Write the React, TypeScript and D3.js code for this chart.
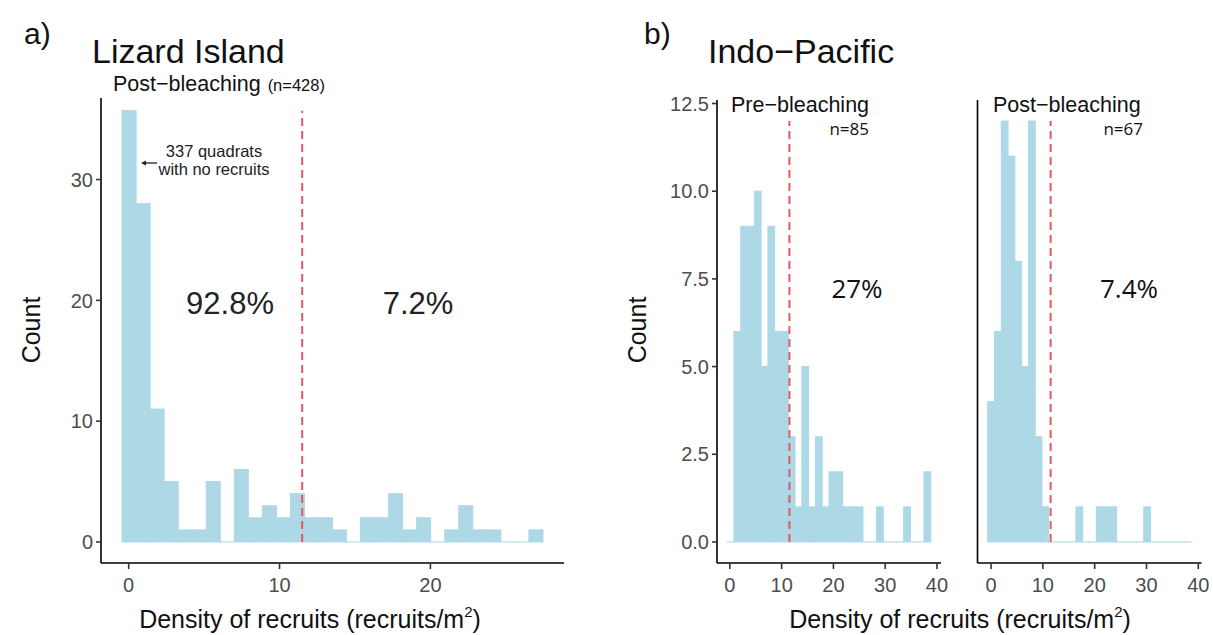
import React from "react";
import * as d3 from "d3";

// histogram counts, read bin by bin off the figure (30 bins per panel)
const lizardCounts = [35.7, 28, 11, 5, 1, 1, 5, 0, 6, 2, 3, 2, 4, 2, 2, 1, 0, 2, 2, 4, 1, 2, 0, 1, 3, 1, 1, 0, 0, 1];
const lizardBinStart = -0.44;
const lizardBinWidth = 0.93;

const preCounts = [0, 6, 9, 9, 10, 5, 9, 6, 6, 3, 1, 5, 1, 3, 1, 2, 2, 1, 1, 1, 0, 0, 1, 0, 0, 0, 1, 0, 0, 2];
const preBinStart = -0.52;
const preBinWidth = 1.311;

const postCounts = [4, 6, 12, 11, 8, 5, 12, 3, 1, 0, 0, 0, 0, 1, 0, 0, 1, 1, 1, 0, 0, 0, 0, 1, 0, 0, 0, 0, 0, 0];
const postBinStart = -0.65;
const postBinWidth = 1.31;

const threshold = 11.5;

const lizardXTicks = [0, 10, 20];
const lizardYTicks = [0, 10, 20, 30];
const indoXTicks = [0, 10, 20, 30, 40];
const indoYTicks = [0, 2.5, 5, 7.5, 10, 12.5];

const barColor = "#ADD8E6";
const lineColor = "#E8575F";
const tickColor = "#4D4D4D";
const font = "'Liberation Sans', Arial, Helvetica, sans-serif";
const font2 = "'Open Sans', 'Liberation Sans', sans-serif";

type HistProps = {
  counts: number[];
  binStart: number;
  binWidth: number;
  x: d3.ScaleLinear<number, number>;
  y: d3.ScaleLinear<number, number>;
  xTicks: number[];
  yTicks?: number[];
  yFormat?: (v: number) => string;
  lineTop: number;
};

const Histogram = ({ counts, binStart, binWidth, x, y, xTicks, yTicks, yFormat, lineTop }: HistProps) => {
  const [x0, x1] = x.range();
  const [yb, yt] = y.range();
  const base = y(0);
  return (
    <g>
      {counts.map((c, i) => {
        const left = x(binStart + i * binWidth);
        const right = x(binStart + (i + 1) * binWidth);
        const top = y(c);
        return (
          <rect
            key={i}
            x={left}
            y={top}
            width={right - left}
            height={Math.max(base - top, 0.01)}
            fill={barColor}
            stroke={barColor}
            strokeWidth={1}
          />
        );
      })}
      <line
        x1={x(threshold)}
        x2={x(threshold)}
        y1={y(0)}
        y2={y(lineTop)}
        stroke={lineColor}
        strokeWidth={2}
        strokeDasharray="8,5"
      />
      {/* axes */}
      <line x1={x0} x2={x1} y1={yb} y2={yb} stroke="#000" strokeWidth={1.6} />
      <line x1={x0} x2={x0} y1={yb} y2={yt} stroke="#000" strokeWidth={1.6} />
      {xTicks.map((t) => (
        <g key={t}>
          <line x1={x(t)} x2={x(t)} y1={yb} y2={yb + 6} stroke="#333" strokeWidth={1.6} />
          <text x={x(t)} y={592} textAnchor="middle" fontSize={20} fill={tickColor} fontFamily={font}>
            {t}
          </text>
        </g>
      ))}
      {yTicks &&
        yTicks.map((t) => (
          <g key={t}>
            <line x1={x0 - 5} x2={x0} y1={y(t)} y2={y(t)} stroke="#333" strokeWidth={1.6} />
            <text x={x0 - 8} y={y(t)} dy="0.36em" textAnchor="end" fontSize={20} fill={tickColor} fontFamily={font}>
              {yFormat ? yFormat(t) : t}
            </text>
          </g>
        ))}
    </g>
  );
};

const expandX = (start: number, width: number, n: number) => {
  const lo = start;
  const hi = start + width * n;
  const pad = (hi - lo) * 0.05;
  return [lo - pad, hi + pad];
};

const AxisTitle = ({ cx }: { cx: number }) => (
  <text x={cx} y={628} textAnchor="middle" fontSize={25} fill="#111" fontFamily={font}>
    Density of recruits (recruits/m
    <tspan fontSize={15} dy={-11}>2</tspan>
    <tspan dy={11}>)</tspan>
  </text>
);

const CountTitle = ({ cx }: { cx: number }) => (
  <text
    transform={`translate(${cx},330) rotate(-90)`}
    textAnchor="middle"
    fontSize={25}
    fill="#111"
    fontFamily={font}
  >
    Count
  </text>
);

export default function App() {
  const xA = d3.scaleLinear().domain(expandX(lizardBinStart, lizardBinWidth, lizardCounts.length)).range([101, 564]);
  const yA = d3.scaleLinear().domain([-1.74, 36.75]).range([563, 98]);

  const yB = d3.scaleLinear().domain([-0.6, 12.6]).range([563, 100]);
  const xPre = d3.scaleLinear().domain(expandX(preBinStart, preBinWidth, preCounts.length)).range([717, 941]);
  const xPost = d3.scaleLinear().domain(expandX(postBinStart, postBinWidth, postCounts.length)).range([977.5, 1201.5]);

  const lizardPeak = d3.max(lizardCounts) as number;
  const indoPeak = d3.max([...preCounts, ...postCounts]) as number;

  return (
    <svg width={1213} height={635} style={{ position: "absolute", left: 0, top: 0, background: "#fff" }}>
      <rect width={1213} height={635} fill="#fff" />

      {/* panel a */}
      <text x={24} y={44} fontSize={30} fontFamily={font} fill="#111">a)</text>
      <text x={92} y={63} fontSize={34} fontFamily={font} fill="#111">Lizard Island</text>
      <text x={113} y={91} fontSize={21.5} fontFamily={font} fill="#111">
        Post−bleaching<tspan fontSize={16.5} dx={7}>(n=428)</tspan>
      </text>
      <Histogram
        counts={lizardCounts}
        binStart={lizardBinStart}
        binWidth={lizardBinWidth}
        x={xA}
        y={yA}
        xTicks={lizardXTicks}
        yTicks={lizardYTicks}
        lineTop={lizardPeak}
      />
      <text x={214} y={157} textAnchor="middle" fontSize={16.5} fontFamily={font} fill="#222">337 quadrats</text>
      <text x={214} y={175} textAnchor="middle" fontSize={16.5} fontFamily={font} fill="#222">with no recruits</text>
      <line x1={143} x2={157} y1={163} y2={163} stroke="#222" strokeWidth={1.3} />
      <path d="M141,163 L146,160.5 L146,165.5 Z" fill="#222" />
      <text x={230} y={314} textAnchor="middle" fontSize={31} fontFamily={font} fill="#222">92.8%</text>
      <text x={418} y={314} textAnchor="middle" fontSize={31} fontFamily={font} fill="#222">7.2%</text>
      <CountTitle cx={40} />
      <AxisTitle cx={310} />

      {/* panel b */}
      <text x={644} y={44} fontSize={30} fontFamily={font} fill="#111">b)</text>
      <text x={708} y={63} fontSize={34} fontFamily={font} fill="#111">Indo−Pacific</text>

      <Histogram
        counts={preCounts}
        binStart={preBinStart}
        binWidth={preBinWidth}
        x={xPre}
        y={yB}
        xTicks={indoXTicks}
        yTicks={indoYTicks}
        yFormat={(v) => v.toFixed(1)}
        lineTop={indoPeak}
      />
      <text x={731} y={112} fontSize={21.5} fontFamily={font} fill="#111">Pre−bleaching</text>
      <text x={869} y={135} textAnchor="end" fontSize={17} fontFamily={font2} fill="#111">n=85</text>
      <text x={857} y={298} textAnchor="middle" fontSize={26} fontFamily={font2} fill="#111">27%</text>

      <Histogram
        counts={postCounts}
        binStart={postBinStart}
        binWidth={postBinWidth}
        x={xPost}
        y={yB}
        xTicks={indoXTicks}
        lineTop={indoPeak}
      />
      <text x={993} y={112} fontSize={21.5} fontFamily={font} fill="#111">Post−bleaching</text>
      <text x={1143} y={135} textAnchor="end" fontSize={17} fontFamily={font2} fill="#111">n=67</text>
      <text x={1129} y={298} textAnchor="middle" fontSize={26} fontFamily={font2} fill="#111">7.4%</text>

      <CountTitle cx={646} />
      <AxisTitle cx={960} />
    </svg>
  );
}
